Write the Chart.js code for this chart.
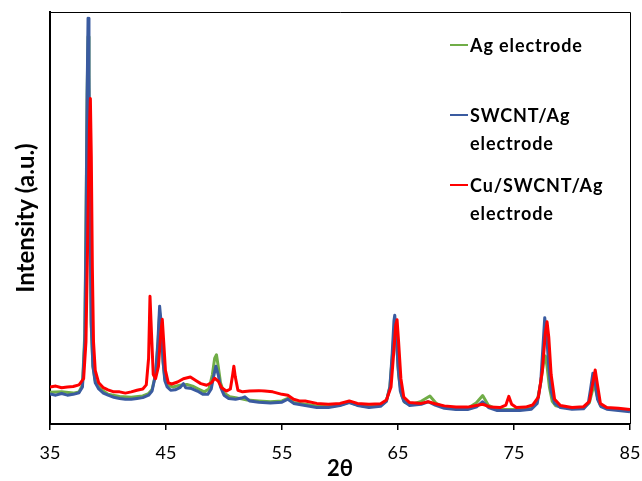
<!DOCTYPE html>
<html>
<head>
<meta charset="utf-8">
<script src="https://cdn.jsdelivr.net/npm/chart.js@4.4.1/dist/chart.umd.min.js"></script>
<style>
  html, body { margin: 0; padding: 0; background: #fff; }
  #wrap { position: relative; width: 642px; height: 481px; }
  #c { position: absolute; left: 0; top: 0; }
  .lg { position: absolute; font-family: Lato, "Open Sans", sans-serif; font-weight: bold; font-size: 18px; letter-spacing: 0.9px; color: #000; line-height: 28px; white-space: nowrap; }
  .sw { position: absolute; width: 18px; height: 2px; }
</style>
</head>
<body>
<div id="wrap">
  <canvas id="c" width="642" height="481"></canvas>
</div>
<script>
// ---- data (2θ in degrees, intensity in arbitrary units) ----
const seriesNames = ["Ag electrode", "SWCNT/Ag\nelectrode", "Cu/SWCNT/Ag\nelectrode"];
const xTicks = [35, 45, 55, 65, 75, 85];

const xAg = [35,36,37,37.5,37.8,38.0,38.1,38.2,38.28,38.36,38.45,38.55,38.7,38.9,39.2,39.6,40,41,42,43,43.5,43.8,44.1,44.3,44.45,44.6,44.75,44.9,45.2,45.6,46.2,46.8,47.3,47.8,48.3,48.7,49.0,49.2,49.35,49.5,49.7,50.0,50.5,51,52,53,54,55,55.5,56,57,58,59,60,60.8,61.5,62.5,63.5,64.0,64.3,64.5,64.65,64.75,64.9,65.05,65.3,65.6,66.2,67,67.75,68.3,69,70,71,71.7,72.3,72.8,73.5,74.5,75.5,76.5,77.0,77.3,77.55,77.7,77.85,78.05,78.3,78.6,79,80,81,81.5,81.8,81.95,82.15,82.45,83,84,85];
const yAg = [7.7,7.8,7.5,7.8,9.5,22,48,80,94,82,48,24,14,10.5,9,8,7.2,6.7,6.5,6.8,7.4,8.4,12,19,27,23,15,11,9.3,9.0,9.4,9.6,9.2,8.5,7.8,8.5,12,16,16.8,14,10,7.5,6.6,6.4,5.8,5.6,5.4,5.6,6.2,5.2,4.8,4.4,4.2,4.6,5.3,4.6,4.2,4.5,5.6,9,16,22,23.5,19,12,7,5.2,4.8,5.5,6.8,5.0,4.0,3.7,3.8,5,6.9,4.5,3.6,3.5,3.5,3.9,5.5,10,15,16.5,14,9,5.5,4.4,4.2,3.8,3.9,5.2,8.5,9.3,7,4.5,3.8,3.5,3.2];

const xSW = [35,35.5,36,36.5,37,37.5,37.8,38.0,38.1,38.2,38.28,38.36,38.45,38.55,38.7,38.9,39.2,39.6,40,40.5,41,41.5,42,42.5,43,43.5,43.8,44.1,44.3,44.45,44.6,44.75,44.9,45.1,45.4,45.8,46.2,46.5,46.7,47.2,47.7,48.2,48.6,48.9,49.1,49.3,49.5,49.7,50.0,50.4,51,51.5,51.8,52.2,53,54,55,55.5,56,57,58,59,60,60.8,61.5,62.5,63.5,64.0,64.3,64.5,64.65,64.72,64.85,65.0,65.2,65.5,66,67,67.6,68.2,69,70,71,71.8,72.3,72.8,73.5,74.5,75.5,76.5,77.0,77.3,77.5,77.65,77.8,78.0,78.2,78.5,79,80,81,81.4,81.6,81.8,82.0,82.2,82.5,83,84,85];
const ySW = [7.3,7.0,7.4,7.0,7.2,7.6,9,20,45,80,98.5,85,50,25,14,10,8.5,7.5,7.0,6.5,6.2,6.0,6.0,6.2,6.4,7,8,12,20,28.6,24,15,10.5,9,8.2,8.3,8.8,9.8,8.8,8.6,8.0,7.2,7.2,8.5,11.5,14,12,9,7,6.2,6.0,6.3,6.6,5.6,5.3,5.1,5.3,6.0,5.0,4.5,4.0,4.0,4.5,5.2,4.5,4.0,4.3,5.5,9,17,25,26.4,22,14,8,5.5,4.5,4.8,5.4,4.6,3.8,3.5,3.5,4.2,5.4,4.0,3.3,3.3,3.3,3.6,5,10,19,25.8,22,14,8,5,4,3.6,3.7,5,8.5,12.3,10,6,4.2,3.6,3.3,3.0];

const xCu = [35,35.5,36,36.5,37,37.5,37.9,38.1,38.25,38.4,38.48,38.56,38.65,38.75,38.9,39.2,39.6,40,40.5,41,41.5,42,42.5,43.0,43.3,43.5,43.62,43.75,43.9,44.1,44.35,44.55,44.68,44.8,44.95,45.2,45.5,46,46.5,47.1,47.6,48.0,48.5,48.9,49.2,49.5,49.8,50.2,50.55,50.75,50.85,50.97,51.2,51.6,52.2,53,53.5,54.2,55,55.5,56,56.5,57,58,59,60,60.8,61.5,62.5,63.5,64.0,64.4,64.65,64.8,64.92,65.05,65.25,65.5,66,67,67.6,68.2,69,70,71,72.3,73,73.8,74.3,74.55,74.8,75.2,76,76.6,77.1,77.45,77.7,77.85,78.0,78.2,78.5,79,80,81,81.5,81.8,82.0,82.2,82.45,83,84,85];
const yCu = [9.0,9.2,8.8,9.0,9.1,9.5,11,20,45,72,79,65,38,20,13,10,8.8,8.3,7.8,7.8,7.5,7.8,8.2,8.5,9.5,16,31,22,12,11,14,22,25.4,20,13,10,9.7,10.2,11,11.4,10.5,9.8,9.4,10,11.1,10.4,8.8,8.0,8.5,12,14,11.5,8.2,7.8,8.0,8.1,8.0,7.8,7.2,7.0,6.0,5.6,5.6,5.0,4.8,5.0,5.6,5.0,4.8,4.9,5.8,9,18,24,25.3,20,11,6.5,5.2,5.0,5.4,4.9,4.4,4.1,4.1,4.8,4.1,4.0,4.6,6.7,4.8,4.0,4.1,4.6,6.5,13,22,24.8,21,12,6,4.5,4.0,4.2,5.5,10,13.1,9.5,5,4.0,3.8,3.5];

const colors = ["#70AD47", "#3A5BA0", "#FF0000"];

function pts(xs, ys) { return xs.map((x, i) => ({ x: x, y: ys[i] })); }

const frame = {
  id: 'frame',
  afterDatasetsDraw(chart) {
    const a = chart.chartArea, ctx = chart.ctx;
    ctx.save();
    ctx.strokeStyle = '#000';
    ctx.lineWidth = 1;
    ctx.beginPath();
    ctx.moveTo(a.left, a.top + 0.5);
    ctx.lineTo(a.right + 0.5, a.top + 0.5);
    ctx.lineTo(a.right + 0.5, a.bottom);
    ctx.stroke();
    ctx.restore();
  }
};

new Chart(document.getElementById('c'), {
  type: 'line',
  data: {
    datasets: [
      { label: seriesNames[0], data: pts(xAg, yAg), borderColor: colors[0], order: 3 },
      { label: seriesNames[1], data: pts(xSW, ySW), borderColor: colors[1], order: 2 },
      { label: seriesNames[2], data: pts(xCu, yCu), borderColor: colors[2], order: 1 }
    ].map(d => Object.assign(d, { borderWidth: 3, pointRadius: 0, tension: 0, fill: false, borderJoinStyle: 'round' }))
  },
  options: {
    responsive: false,
    animation: false,
    events: [],
    layout: { padding: { left: 0, right: 12, top: 12, bottom: 0 } },
    plugins: { legend: { display: false }, tooltip: { enabled: false } },
    scales: {
      x: {
        type: 'linear', min: 35, max: 85,
        afterBuildTicks: s => { s.ticks = xTicks.map(v => ({ value: v })); },
        afterFit: s => { s.height = 57; s.paddingLeft = 0; s.paddingRight = 0; },
        grid: { drawOnChartArea: false, drawTicks: true, tickLength: 6, color: '#000', lineWidth: 1.5 },
        border: { display: true, color: '#000', width: 2 },
        ticks: { color: '#000', font: { family: 'Lato', size: 18 }, padding: 12, maxRotation: 0 },
        title: { display: true, text: '2θ', color: '#000', font: { family: 'Lato', size: 22, weight: 'bold' }, padding: { top: 0, bottom: -1 } }
      },
      y: {
        min: 0, max: 100,
        afterFit: s => { s.width = 50; },
        grid: { display: false },
        border: { display: true, color: '#000', width: 2 },
        ticks: { display: false },
        title: { display: true, text: 'Intensity (a.u.)', color: '#000', font: { family: 'Lato', size: 24, weight: 'bold' }, padding: { top: 12, bottom: 0 } }
      }
    }
  },
  plugins: [frame]
});

// ---- legend as HTML text ----
const wrap = document.getElementById('wrap');
const legendRows = [
  { name: seriesNames[0], color: colors[0], top: 31 },
  { name: seriesNames[1], color: colors[1], top: 101 },
  { name: seriesNames[2], color: colors[2], top: 171 }
];
legendRows.forEach(r => {
  const sw = document.createElement('div');
  sw.className = 'sw';
  sw.style.left = '450px';
  sw.style.top = (r.top + 13) + 'px';
  sw.style.background = r.color;
  wrap.appendChild(sw);
  const t = document.createElement('div');
  t.className = 'lg';
  t.style.left = '470px';
  t.style.top = r.top + 'px';
  t.innerHTML = r.name.split('\n').join('<br>');
  wrap.appendChild(t);
});
</script>
</body>
</html>
